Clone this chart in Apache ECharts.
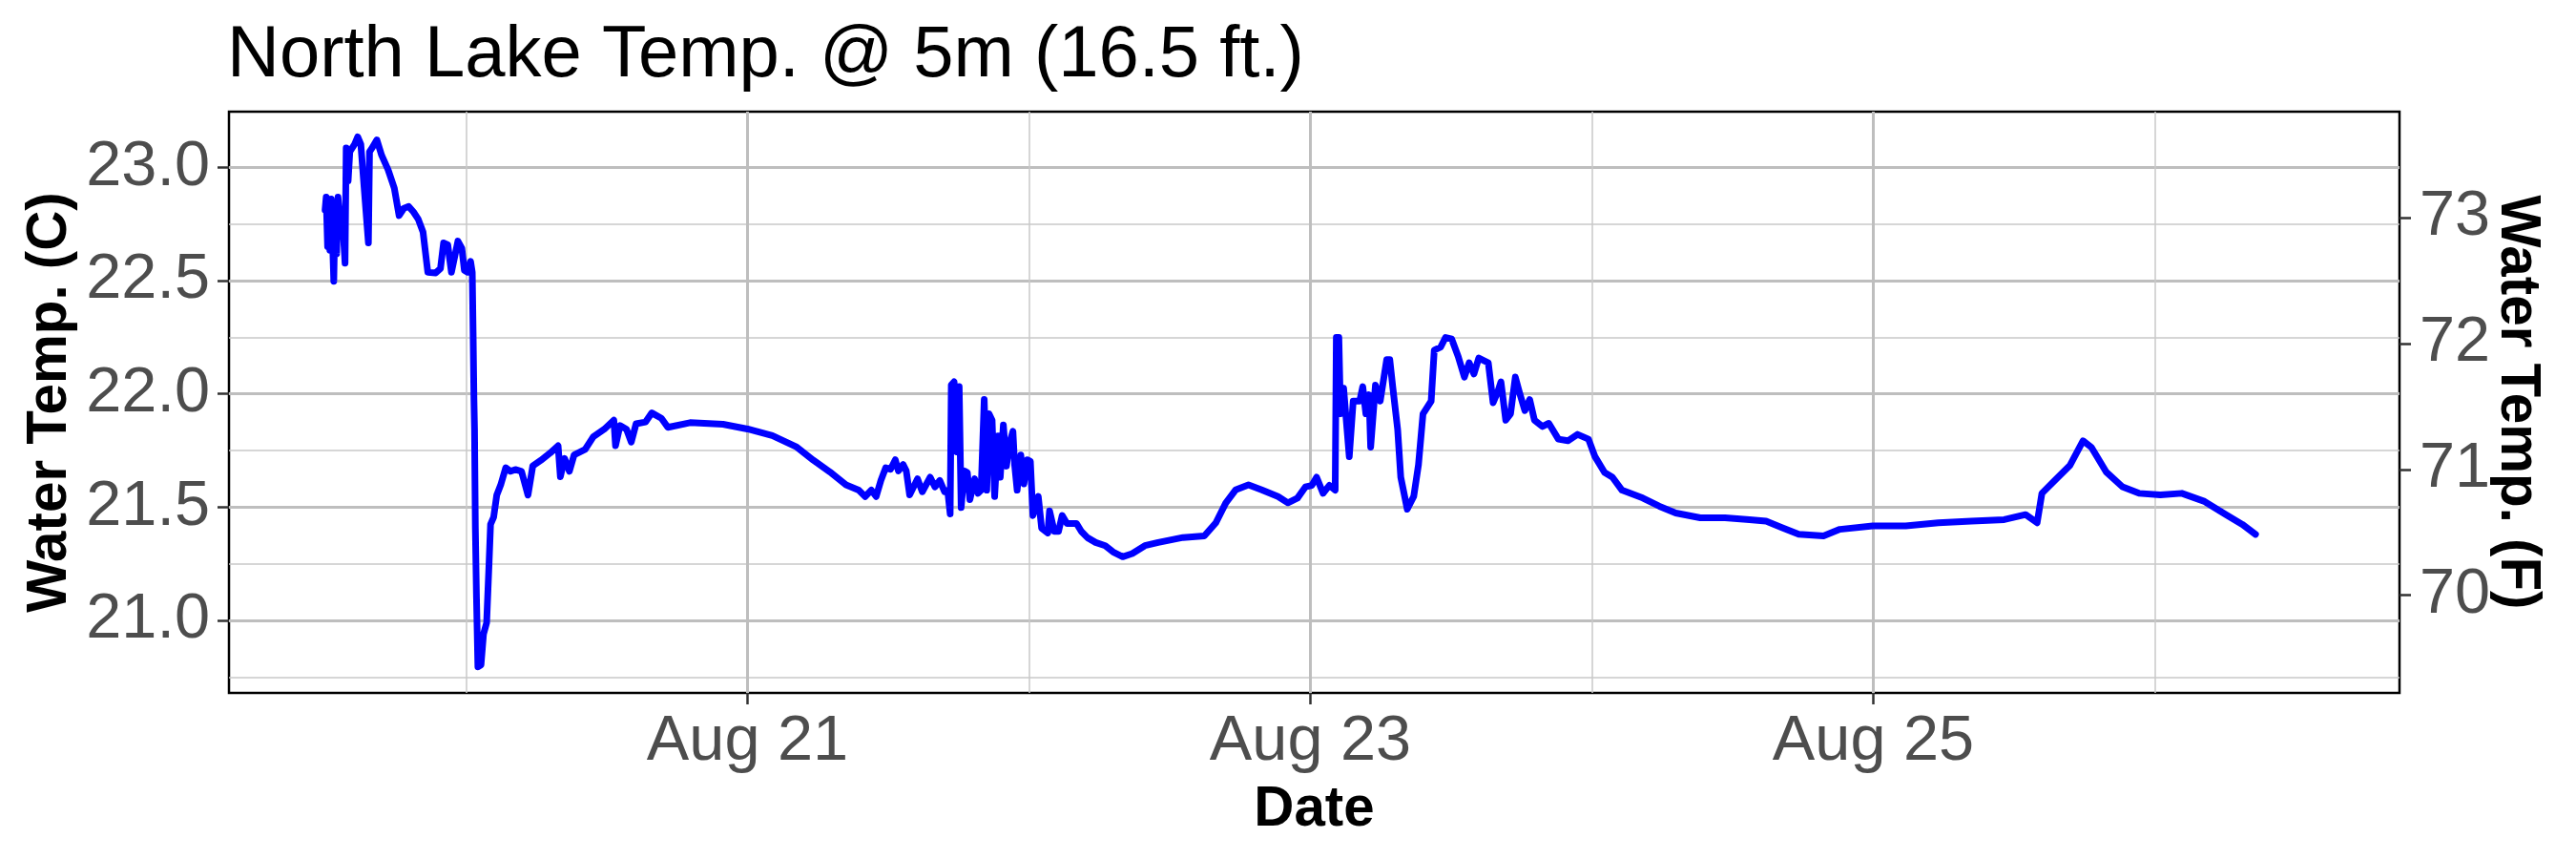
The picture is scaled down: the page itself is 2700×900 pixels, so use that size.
<!DOCTYPE html>
<html>
<head>
<meta charset="utf-8">
<script src="https://cdn.jsdelivr.net/npm/echarts@6/dist/echarts.min.js"></script>
<style>
html,body{margin:0;padding:0;background:#fff;}
#chart{width:2700px;height:900px;}
</style>
</head>
<body>
<div id="chart"></div>
<script>
// ---- data: time as decimal day of August ----
const dayOfAug = [
19.499,19.503,19.508,19.511,19.516,19.521,19.530,19.535,19.540,19.545,19.553,19.562,19.570,19.574,19.581,19.587,19.604,19.615,19.626,19.638,19.653,19.657,19.666,19.683,19.700,19.723,19.745,19.762,19.779,19.796,19.813,19.830,19.847,19.864,19.892,19.909,19.920,19.935,19.948,19.971,19.985,19.994,20.005,20.016,20.022,20.025,20.028,20.030,20.033,20.037,20.042,20.053,20.062,20.073,20.082,20.087,20.098,20.109,20.124,20.141,20.158,20.175,20.197,20.220,20.237,20.265,20.299,20.327,20.335,20.350,20.367,20.384,20.423,20.452,20.491,20.525,20.531,20.547,20.570,20.587,20.604,20.638,20.660,20.694,20.717,
20.796,20.913,21.000,21.088,21.175,21.234,21.292,21.350,
21.395,21.418,21.440,21.457,21.474,21.491,21.508,21.525,21.536,21.553,21.564,21.576,21.604,21.621,21.649,21.666,21.683,21.700,21.711,21.720,21.724,21.734,21.743,21.752,21.759,21.770,21.781,21.790,21.807,21.819,21.830,21.841,21.850,21.858,21.869,21.878,21.890,21.898,21.909,21.920,21.932,21.943,21.949,21.958,21.971,21.982,21.994,22.005,22.014,22.033,22.045,22.067,22.073,22.090,22.105,22.118,22.135,22.169,22.186,22.208,22.237,22.271,22.299,22.333,22.367,22.412,
22.459,22.547,22.623,22.664,22.699,22.734,22.780,22.827,22.885,
22.920,22.954,22.982,23.005,23.022,23.045,23.067,23.088,23.092,23.101,23.107,23.118,23.138,23.152,23.175,23.186,23.197,23.208,23.214,23.231,23.248,23.271,23.282,23.293,23.310,23.321,23.344,23.367,23.384,23.400,23.429,23.440,23.463,23.480,23.502,23.525,23.547,23.564,23.581,23.598,23.632,23.649,23.666,23.677,23.694,23.711,23.728,23.745,23.762,23.779,23.796,23.824,23.847,23.881,23.915,23.949,23.988,24.011,24.045,24.073,24.107,
24.181,24.240,24.298,24.385,24.473,24.560,24.619,24.677,24.735,24.823,24.881,24.998,25.115,25.231,25.348,25.465,25.541,25.582,25.599,25.640,25.699,25.745,25.775,25.827,25.885,25.944,26.020,26.096,26.177,26.253,26.311,26.358
];
const waterTempC = [
22.811,22.868,22.650,22.844,22.634,22.860,22.497,22.844,22.618,22.868,22.763,22.747,22.577,23.085,22.940,23.069,23.102,23.134,23.102,22.908,22.666,23.069,23.085,23.121,23.053,22.989,22.908,22.787,22.819,22.827,22.803,22.771,22.715,22.537,22.534,22.553,22.666,22.658,22.537,22.674,22.642,22.545,22.537,22.585,22.537,22.271,21.973,21.844,21.408,21.102,20.795,20.803,20.940,20.989,21.263,21.424,21.456,21.553,21.602,21.674,21.658,21.666,21.658,21.553,21.682,21.706,21.739,21.771,21.634,21.715,21.658,21.731,21.755,21.811,21.844,21.884,21.771,21.860,21.844,21.787,21.868,21.876,21.916,21.892,21.852,
21.873,21.866,21.845,21.816,21.765,21.707,21.656,21.598,
21.575,21.547,21.575,21.547,21.618,21.674,21.667,21.709,21.660,21.688,21.660,21.554,21.625,21.568,21.632,21.589,21.618,21.568,21.575,21.470,22.039,22.053,21.744,22.032,21.498,21.660,21.653,21.533,21.625,21.561,21.575,21.975,21.575,21.912,21.884,21.547,21.814,21.632,21.863,21.681,21.786,21.835,21.688,21.575,21.730,21.603,21.709,21.702,21.463,21.547,21.407,21.386,21.484,21.393,21.393,21.463,21.428,21.428,21.393,21.365,21.344,21.330,21.302,21.281,21.295,21.330,
21.344,21.366,21.373,21.431,21.518,21.576,21.598,21.576,21.547,
21.519,21.540,21.589,21.596,21.632,21.561,21.596,21.575,22.249,22.249,21.912,22.025,21.723,21.968,21.968,22.032,21.912,21.996,21.765,22.039,21.968,22.151,22.151,22.025,21.842,21.632,21.491,21.547,21.688,21.912,21.968,22.193,22.207,22.249,22.242,22.165,22.074,22.137,22.088,22.158,22.137,21.961,22.011,22.053,21.884,21.912,22.074,21.996,21.926,21.975,21.884,21.856,21.870,21.800,21.793,21.821,21.800,21.723,21.653,21.632,21.575,
21.540,21.504,21.474,21.453,21.453,21.445,21.438,21.409,21.380,21.373,21.402,21.417,21.417,21.431,21.438,21.445,21.467,21.431,21.561,21.612,21.685,21.793,21.764,21.656,21.590,21.561,21.554,21.561,21.525,21.467,21.424,21.380
];
const xMajorDays = [21, 23, 25];
const xMinorDays = [20, 22, 24, 26];
const yTicksC = [21.0, 21.5, 22.0, 22.5, 23.0];
const yMinorC = [20.75, 21.25, 21.75, 22.25, 22.75];
const yTicksF = [70, 71, 72, 73];
const xRangeDays = [19.1576, 26.8695];
const yRangeC = [20.680, 23.2455];

// ---- helpers ----
const cToF = c => c * 9 / 5 + 32;
const FONT = "'Liberation Sans', Arial, sans-serif";
const seriesData = dayOfAug.map((d, i) => [d, waterTempC[i]]);

const chart = echarts.init(document.getElementById('chart'), null, {renderer: 'canvas'});
const hidden = {show: false};
chart.setOption({
  animation: false,
  backgroundColor: '#ffffff',
  title: {
    text: 'North Lake Temp. @ 5m (16.5 ft.)',
    left: 238, top: 21, padding: 0,
    textStyle: {fontFamily: FONT, fontSize: 76, fontWeight: 'normal', color: '#000000'}
  },
  grid: {
    left: 240, right: 185, top: 117, bottom: 174,
    show: true, borderColor: '#000000', borderWidth: 2.5, backgroundColor: '#ffffff'
  },
  xAxis: [
    {
      type: 'value',
      min: xRangeDays[0], max: xRangeDays[1],
      name: 'Date', nameLocation: 'middle', nameGap: 94, nameMoveOverlap: false,
      nameTextStyle: {fontFamily: FONT, fontSize: 58.3, fontWeight: 'bold', color: '#000000'},
      axisLine: hidden,
      axisTick: {show: true, length: 12, customValues: xMajorDays,
                 lineStyle: {color: '#333333', width: 2.5}},
      axisLabel: {show: true, margin: 18, customValues: xMajorDays,
                  fontFamily: FONT, fontSize: 66.7, color: '#4d4d4d',
                  formatter: v => 'Aug ' + Math.round(v)},
      splitLine: {show: true, lineStyle: {color: '#bebebe', width: 3}}
    },
    {
      type: 'value',
      min: xRangeDays[0], max: xRangeDays[1],
      position: 'bottom',
      axisLine: hidden, axisLabel: hidden,
      axisTick: {show: false, customValues: xMinorDays},
      splitLine: {show: true, lineStyle: {color: '#c8c8c8', width: 1.5}}
    }
  ],
  yAxis: [
    {
      type: 'value', position: 'left',
      min: yRangeC[0], max: yRangeC[1],
      name: 'Water Temp. (C)', nameLocation: 'middle', nameGap: 158, nameMoveOverlap: false,
      nameTextStyle: {fontFamily: FONT, fontSize: 58.3, fontWeight: 'bold', color: '#000000'},
      axisLine: hidden,
      axisTick: {show: true, length: 12, customValues: yTicksC,
                 lineStyle: {color: '#333333', width: 2.5}},
      axisLabel: {show: true, margin: 20, customValues: yTicksC,
                  fontFamily: FONT, fontSize: 66.7, color: '#4d4d4d',
                  formatter: v => v.toFixed(1)},
      splitLine: {show: true, lineStyle: {color: '#bebebe', width: 3}}
    },
    {
      type: 'value', position: 'right',
      min: cToF(yRangeC[0]), max: cToF(yRangeC[1]),
      name: 'Water Temp. (F)', nameLocation: 'middle', nameGap: 94, nameRotate: -90,
      nameMoveOverlap: false,
      nameTextStyle: {fontFamily: FONT, fontSize: 58.3, fontWeight: 'bold', color: '#000000'},
      axisLine: hidden,
      axisTick: {show: true, length: 12, customValues: yTicksF,
                 lineStyle: {color: '#333333', width: 2.5}},
      axisLabel: {show: true, margin: 21, customValues: yTicksF,
                  fontFamily: FONT, fontSize: 66.7, color: '#4d4d4d',
                  formatter: v => String(Math.round(v))},
      splitLine: hidden
    },
    {
      type: 'value', position: 'left',
      min: yRangeC[0], max: yRangeC[1],
      axisLine: hidden, axisLabel: hidden,
      axisTick: {show: false, customValues: yMinorC},
      splitLine: {show: true, lineStyle: {color: '#c8c8c8', width: 1.5}}
    }
  ],
  series: [{
    type: 'line',
    xAxisIndex: 0, yAxisIndex: 0,
    data: seriesData,
    showSymbol: false,
    lineStyle: {color: '#0000ff', width: 7, join: 'round', cap: 'round'},
    itemStyle: {color: '#0000ff'},
    z: 5
  }]
});
</script>
</body>
</html>
